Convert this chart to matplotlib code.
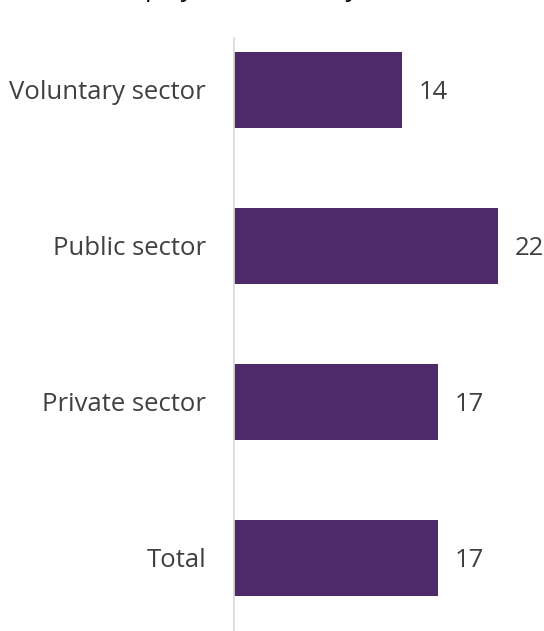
import matplotlib
matplotlib.use("Agg")
import matplotlib.pyplot as plt

plt.rcParams["font.family"] = ["Open Sans", "DejaVu Sans"]

categories = ["Total", "Private sector", "Public sector", "Voluntary sector"]
values = [17, 17, 22, 14]
title_text = "Share employed in the last year"

BAR = "#4E2A6B"
TXT = "#404040"
FS = 18.5

fig = plt.figure(figsize=(5.44, 6.31), dpi=100)
ax = fig.add_axes([234 / 544, 0, 310 / 544, 593 / 631])

pos = range(len(categories))
ax.barh(pos, values, height=0.49, color=BAR)
for p, v in zip(pos, values):
    ax.text(v + 1.4, p, f"{v}", va="center_baseline", ha="left", fontsize=FS, color=TXT)

ax.set_xlim(0, 25.8)
ax.set_ylim(-0.468, 3.333)
ax.set_yticks(list(pos))
ax.set_yticklabels(categories, fontsize=FS, color=TXT)
ax.tick_params(axis="y", length=0, pad=20)
ax.set_xticks([])
for s in ["top", "right", "bottom"]:
    ax.spines[s].set_visible(False)
ax.spines["left"].set_color("#D9D9D9")
ax.spines["left"].set_linewidth(1.2)

# title sits above the visible crop, only descenders show
fig.text(0.074, 1.007, title_text, ha="left", va="baseline", fontsize=FS,
         style="italic", color="#000000")

fig.savefig("out.png", dpi=100)
